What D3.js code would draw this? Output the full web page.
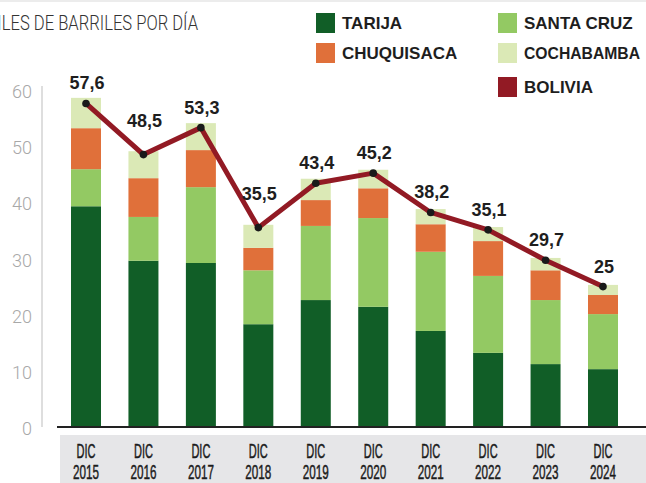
<!DOCTYPE html>
<html>
<head>
<meta charset="utf-8">
<script src="https://cdn.jsdelivr.net/npm/d3@7"></script>
<style>
  body { margin: 0; background: #fff; }
  svg { display: block; }
</style>
</head>
<body>
<script>
    var w = 646;
    var h = 483;

    // data (miles de barriles por dia)
    var years = ["2015", "2016", "2017", "2018", "2019", "2020", "2021", "2022", "2023", "2024"];
    var tarija     = [39.3, 29.6, 29.2, 18.3, 22.6, 21.4, 17.1, 13.2, 11.2, 10.3];
    var santaCruz  = [6.6, 7.8, 13.5, 9.6, 13.2, 15.8, 14.1, 13.7, 11.4, 9.8];
    var chuquisaca = [7.3, 6.9, 6.6, 4.0, 4.6, 5.3, 4.9, 6.2, 5.3, 3.4];
    var cochabamba = [5.4, 4.8, 4.8, 4.1, 3.8, 3.3, 2.7, 2.5, 2.2, 1.8];
    var bolivia    = [57.6, 48.5, 53.3, 35.5, 43.4, 45.2, 38.2, 35.1, 29.7, 25];
    var yTicks = [0, 10, 20, 30, 40, 50, 60];

    var seriesNames = ["TARIJA", "SANTA CRUZ", "CHUQUISACA", "COCHABAMBA"];
    var seriesValues = [tarija, santaCruz, chuquisaca, cochabamba];
    var colors = ["#115e27", "#93c963", "#e0703a", "#dbe9b6"];
    var lineColor = "#921a24";

    var svg = d3.select("body")
                .append("svg")
                .attr("width", w)
                .attr("height", h);

    // thin rule at the very top
    svg.append("rect")
       .attr("x", 0).attr("y", 0)
       .attr("width", w).attr("height", 2)
       .attr("fill", "#ececec");

    var x = d3.scalePoint()
              .domain(years)
              .range([86, 603]);

    var y = d3.scaleLinear()
              .domain([0, 60])
              .range([427, 90]);

    var barW = 30;

    // build stacked rows
    var rows = years.map(function(yr, i) {
        var r = { year: yr };
        seriesNames.forEach(function(s, k) { r[s] = seriesValues[k][i]; });
        return r;
    });
    var stack = d3.stack().keys(seriesNames)(rows);

    // x label band
    svg.append("rect")
       .attr("x", 60).attr("y", 435)
       .attr("width", w - 60).attr("height", h - 435)
       .attr("fill", "#e6e6e8");

    // y axis line
    svg.append("line")
       .attr("x1", 42).attr("x2", 42)
       .attr("y1", y(60) - 4).attr("y2", y(0))
       .attr("stroke", "#c8c8c8")
       .attr("stroke-width", 1.2);

    // y tick labels
    svg.selectAll(".ytick")
       .data(yTicks)
       .enter()
       .append("text")
       .attr("class", "ytick")
       .attr("x", 32)
       .attr("y", function(d) { return y(d) + 8; })
       .attr("text-anchor", "end")
       .attr("font-family", "Roboto, 'Liberation Sans', sans-serif")
       .attr("font-weight", 300)
       .attr("font-size", 19)
       .attr("fill", "#a8a8a8")
       .attr("textLength", function(d) { return d === 0 ? 10 : 20; })
       .attr("lengthAdjust", "spacingAndGlyphs")
       .text(function(d) { return d; });

    // stacked bars
    svg.selectAll(".layer")
       .data(stack)
       .enter()
       .append("g")
       .attr("class", "layer")
       .attr("fill", function(d, i) { return colors[i]; })
       .selectAll("rect")
       .data(function(d) { return d; })
       .enter()
       .append("rect")
       .attr("x", function(d) { return x(d.data.year) - barW / 2; })
       .attr("y", function(d) { return y(d[1]); })
       .attr("width", barW)
       .attr("height", function(d) { return y(d[0]) - y(d[1]); });

    // baseline
    svg.append("line")
       .attr("x1", 57).attr("x2", w)
       .attr("y1", y(0)).attr("y2", y(0))
       .attr("stroke", "#222")
       .attr("stroke-width", 2);

    // x labels
    var xl = svg.selectAll(".xlab")
                .data(years)
                .enter()
                .append("g")
                .attr("class", "xlab")
                .attr("transform", function(d) { return "translate(" + x(d) + ",0)"; });
    xl.append("text")
      .attr("y", 458)
      .attr("text-anchor", "middle")
      .attr("font-family", "'Liberation Sans', sans-serif")
      .attr("font-size", 21)
      .attr("fill", "#1c1c1c")
      .attr("stroke", "#1c1c1c")
      .attr("stroke-width", 0.5)
      .attr("textLength", 19)
      .attr("lengthAdjust", "spacingAndGlyphs")
      .text("DIC");
    xl.append("text")
      .attr("y", 479)
      .attr("text-anchor", "middle")
      .attr("font-family", "'Liberation Sans', sans-serif")
      .attr("font-size", 21)
      .attr("fill", "#1c1c1c")
      .attr("stroke", "#1c1c1c")
      .attr("stroke-width", 0.5)
      .attr("textLength", 26)
      .attr("lengthAdjust", "spacingAndGlyphs")
      .text(function(d) { return d; });

    // Bolivia total line
    var line = d3.line()
                 .x(function(d, i) { return x(years[i]); })
                 .y(function(d) { return y(d); });

    svg.append("path")
       .datum(bolivia)
       .attr("d", line)
       .attr("fill", "none")
       .attr("stroke", lineColor)
       .attr("stroke-width", 5)
       .attr("stroke-linejoin", "round");

    svg.selectAll(".dot")
       .data(bolivia)
       .enter()
       .append("circle")
       .attr("class", "dot")
       .attr("cx", function(d, i) { return x(years[i]); })
       .attr("cy", function(d) { return y(d); })
       .attr("r", 3.8)
       .attr("fill", "#1a1a1a");

    // value labels, lifted more where the line dips
    svg.selectAll(".val")
       .data(bolivia)
       .enter()
       .append("text")
       .attr("class", "val")
       .attr("x", function(d, i) { return x(years[i]) + 1; })
       .attr("y", function(d, i) {
           var prev = bolivia[i - 1], next = bolivia[i + 1];
           var dip = prev !== undefined && next !== undefined && d < prev && d < next;
           return y(d) - (dip ? 28 : 14);
       })
       .attr("text-anchor", "middle")
       .attr("font-family", "'Liberation Sans', sans-serif")
       .attr("font-weight", "bold")
       .attr("font-size", 18)
       .attr("fill", "#1e1e1e")
       .text(function(d) { return String(d).replace(".", ","); });

    // title (cut at the left edge, as in the original)
    svg.append("text")
       .attr("x", 198)
       .attr("y", 30)
       .attr("text-anchor", "end")
       .attr("font-family", "Roboto, 'Liberation Sans', sans-serif")
       .attr("font-weight", 300)
       .attr("font-size", 20)
       .attr("fill", "#333")
       .attr("textLength", 215)
       .attr("lengthAdjust", "spacingAndGlyphs")
       .text("MILES DE BARRILES POR DÍA");

    // legend
    var legendItems = [
        { name: "TARIJA", color: colors[0], col: 0, row: 0 },
        { name: "CHUQUISACA", color: colors[2], col: 0, row: 1 },
        { name: "SANTA CRUZ", color: colors[1], col: 1, row: 0 },
        { name: "COCHABAMBA", color: colors[3], col: 1, row: 1 },
        { name: "BOLIVIA", color: lineColor, col: 1, row: 2 }
    ];
    var legend = svg.selectAll(".leg")
                    .data(legendItems)
                    .enter()
                    .append("g")
                    .attr("class", "leg")
                    .attr("transform", function(d) {
                        return "translate(" + (d.col ? 498 : 316) + "," + [13, 43, 77][d.row] + ")";
                    });
    legend.append("rect")
          .attr("width", 19).attr("height", 20)
          .attr("fill", function(d) { return d.color; });
    legend.append("text")
          .attr("x", 26)
          .attr("y", 16)
          .attr("font-family", "'Liberation Sans', sans-serif")
          .attr("font-weight", "bold")
          .attr("font-size", 17)
          .attr("fill", "#1e1e1e")
          .attr("textLength", function(d) { return d.name === "COCHABAMBA" ? 116 : null; })
          .attr("lengthAdjust", "spacingAndGlyphs")
          .text(function(d) { return d.name; });
</script>
</body>
</html>
